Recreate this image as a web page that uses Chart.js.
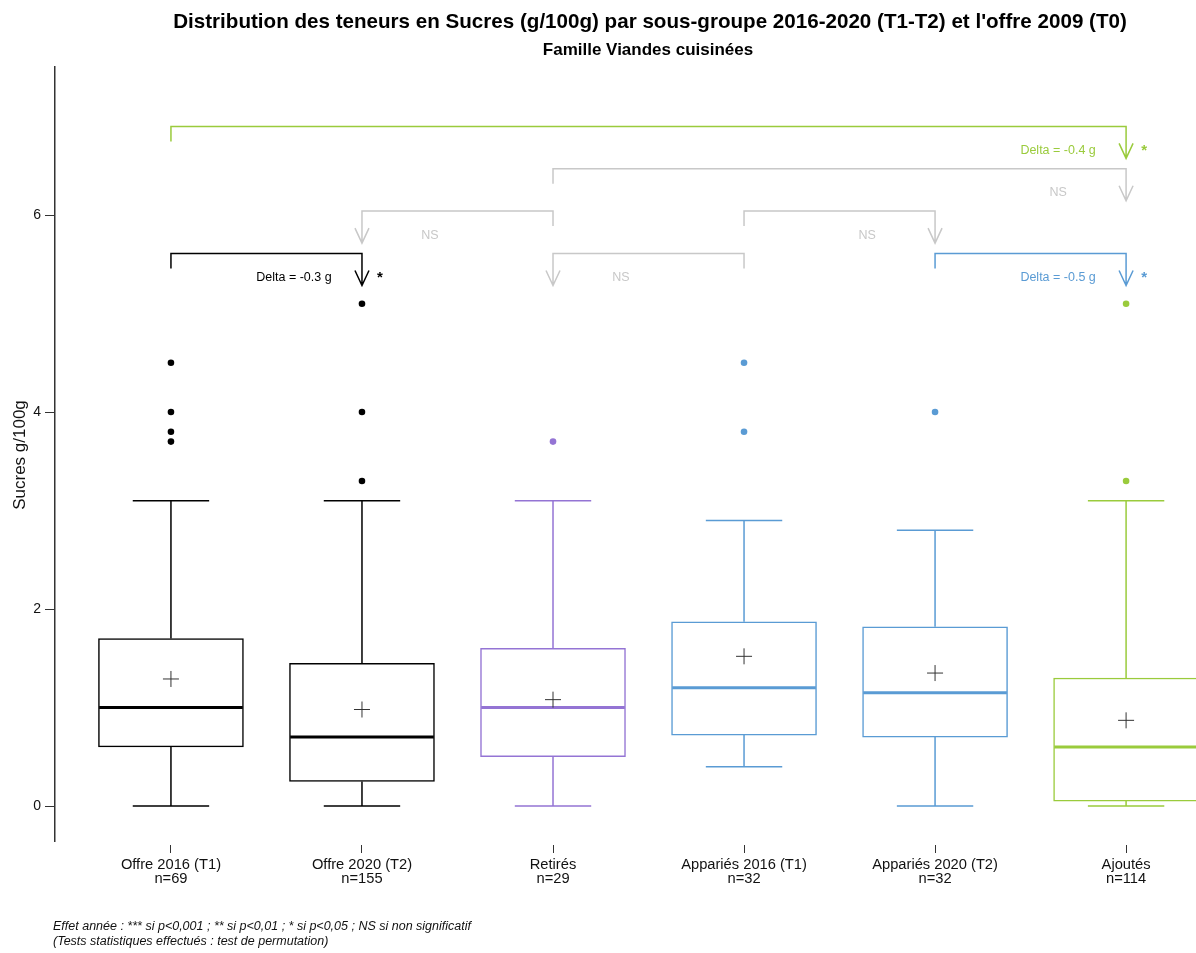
<!DOCTYPE html>
<html>
<head>
<meta charset="utf-8">
<script src="https://cdn.jsdelivr.net/npm/chart.js@4.4.0/dist/chart.umd.min.js"></script>
<style>
  html, body { margin: 0; padding: 0; background: #fff; }
</style>
</head>
<body>
<canvas id="boxChart" width="1196" height="953"></canvas>
<script>
// --- données ---
const categories = ["Offre 2016 (T1)", "Offre 2020 (T2)", "Retirés", "Appariés 2016 (T1)", "Appariés 2020 (T2)", "Ajoutés"];
const counts = [69, 155, 29, 32, 32, 114];
const whiskerLow = [0, 0, 0, 0.4, 0, 0];
const q1 = [0.6, 0.25, 0.5, 0.72, 0.7, 0.05];
const medians = [1.0, 0.7, 1.0, 1.2, 1.15, 0.6];
const q3 = [1.7, 1.45, 1.6, 1.87, 1.82, 1.3];
const whiskerHigh = [3.1, 3.1, 3.1, 2.9, 2.8, 3.1];
const means = [1.29, 0.98, 1.08, 1.52, 1.35, 0.87];
const outliers = [[3.7, 3.8, 4.0, 4.5], [3.3, 4.0, 5.1], [3.7], [3.8, 4.5], [4.0], [3.3, 5.1]];
const yTicks = [0, 2, 4, 6];

// comparaisons : de -> vers, hauteur du crochet, texte, significativité
const compFrom = [0, 2, 2, 3, 0, 3, 4];
const compTo = [5, 5, 1, 4, 1, 2, 5];
const compLevel = [6.9, 6.47, 6.04, 6.04, 5.61, 5.61, 5.61];
const compText = ["Delta = -0.4 g", "NS", "NS", "NS", "Delta = -0.3 g", "NS", "Delta = -0.5 g"];
const compStar = ["*", "", "", "", "*", "", "*"];

// --- styles ---
const groupColors = ["#000000", "#000000", "#9474D4", "#5A9BD4", "#5A9BD4", "#9ACB3C"];
const compColors = ["#9ACB3C", "#C8C8C8", "#C8C8C8", "#C8C8C8", "#000000", "#C8C8C8", "#5A9BD4"];
const FONT = "'Liberation Sans', Arial, sans-serif";

const outlierPoints = [];
const outlierColors = [];
outliers.forEach((list, i) => {
    list.forEach(v => {
        outlierPoints.push({ x: i, y: v });
        outlierColors.push(groupColors[i]);
    });
});

const boxParts = {
    id: "boxParts",
    beforeDatasetsDraw(chart) {
        const { ctx, scales: { x, y } } = chart;
        ctx.save();
        ctx.lineWidth = 1.5;
        categories.forEach((c, i) => {
            const cx = x.getPixelForValue(i);
            const capL = x.getPixelForValue(i - 0.2);
            const capR = x.getPixelForValue(i + 0.2);
            ctx.strokeStyle = groupColors[i];
            ctx.beginPath();
            ctx.moveTo(cx, y.getPixelForValue(q3[i]));
            ctx.lineTo(cx, y.getPixelForValue(whiskerHigh[i]));
            ctx.moveTo(cx, y.getPixelForValue(q1[i]));
            ctx.lineTo(cx, y.getPixelForValue(whiskerLow[i]));
            ctx.moveTo(capL, y.getPixelForValue(whiskerHigh[i]));
            ctx.lineTo(capR, y.getPixelForValue(whiskerHigh[i]));
            ctx.moveTo(capL, y.getPixelForValue(whiskerLow[i]));
            ctx.lineTo(capR, y.getPixelForValue(whiskerLow[i]));
            ctx.stroke();
        });
        ctx.restore();
    },
    afterDatasetDraw(chart, args) {
        if (args.meta.type !== "bar") return;
        const { ctx, scales: { x, y } } = chart;
        ctx.save();
        ctx.lineWidth = 3;
        categories.forEach((c, i) => {
            const py = y.getPixelForValue(medians[i]);
            ctx.strokeStyle = groupColors[i];
            ctx.beginPath();
            ctx.moveTo(x.getPixelForValue(i - 0.376), py);
            ctx.lineTo(x.getPixelForValue(i + 0.376), py);
            ctx.stroke();
        });
        ctx.restore();
    }
};

const brackets = {
    id: "brackets",
    afterDatasetsDraw(chart) {
        const { ctx, scales: { x, y } } = chart;
        ctx.save();
        ctx.lineWidth = 1.5;
        ctx.textBaseline = "middle";
        ctx.textAlign = "center";
        compFrom.forEach((from, k) => {
            const xf = x.getPixelForValue(from);
            const xt = x.getPixelForValue(compTo[k]);
            const yl = y.getPixelForValue(compLevel[k]);
            const dir = compTo[k] > from ? 1 : -1;
            ctx.strokeStyle = compColors[k];
            ctx.fillStyle = compColors[k];
            ctx.beginPath();
            ctx.moveTo(xf, yl + 15);
            ctx.lineTo(xf, yl);
            ctx.lineTo(xt, yl);
            ctx.lineTo(xt, yl + 32);
            ctx.moveTo(xt - 7, yl + 17);
            ctx.lineTo(xt, yl + 32);
            ctx.lineTo(xt + 7, yl + 17);
            ctx.stroke();
            ctx.font = "12.5px " + FONT;
            ctx.fillText(compText[k], xt - dir * 68, yl + 24);
            if (compStar[k]) {
                ctx.font = "bold 15px " + FONT;
                ctx.fillText(compStar[k], xt + dir * 18, yl + 24);
            }
        });
        ctx.restore();
    }
};

const texts = {
    id: "texts",
    afterDraw(chart) {
        const { ctx } = chart;
        ctx.save();
        ctx.fillStyle = "#000";
        ctx.textAlign = "center";
        ctx.textBaseline = "middle";
        ctx.font = "bold 20.6px " + FONT;
        ctx.fillText("Distribution des teneurs en Sucres (g/100g) par sous-groupe 2016-2020 (T1-T2) et l'offre 2009 (T0)", 650, 22);
        ctx.font = "bold 17px " + FONT;
        ctx.fillText("Famille Viandes cuisinées", 648, 50);

        ctx.save();
        ctx.translate(20, 455);
        ctx.rotate(-Math.PI / 2);
        ctx.font = "17px " + FONT;
        ctx.fillStyle = "#111";
        ctx.fillText("Sucres g/100g", 0, 0);
        ctx.restore();

        ctx.textAlign = "left";
        ctx.font = "italic 12.5px " + FONT;
        ctx.fillStyle = "#111";
        ctx.fillText("Effet année : *** si p<0,001 ; ** si p<0,01 ; * si p<0,05 ; NS si non significatif", 53, 927);
        ctx.fillText("(Tests statistiques effectués : test de permutation)", 53, 942);
        ctx.restore();
    }
};

const ctx = document.getElementById("boxChart").getContext("2d");

const chart = new Chart(ctx, {
    type: "scatter",
    data: {
        datasets: [
            {
                type: "scatter",
                label: "Moyenne",
                data: means.map((m, i) => ({ x: i, y: m })),
                pointStyle: "cross",
                pointRadius: 8,
                borderColor: "#333",
                borderWidth: 1,
                order: 1
            },
            {
                type: "scatter",
                label: "Valeurs extrêmes",
                data: outlierPoints,
                pointRadius: 3.3,
                backgroundColor: outlierColors,
                borderWidth: 0,
                order: 2
            },
            {
                type: "bar",
                label: "Boîtes",
                data: categories.map((c, i) => ({ x: i, y: [q1[i], q3[i]] })),
                backgroundColor: "#fff",
                borderColor: groupColors,
                borderWidth: 1.5,
                borderSkipped: false,
                barThickness: 145,
                order: 3
            }
        ]
    },
    options: {
        responsive: false,
        animation: false,
        devicePixelRatio: 1,
        layout: { autoPadding: false, padding: { top: 67, right: 0, bottom: 0, left: 0 } },
        plugins: {
            legend: { display: false },
            tooltip: { enabled: false },
            title: { display: false }
        },
        scales: {
            x: {
                type: "linear",
                min: -0.607,
                max: 5.366,
                offset: false,
                border: { display: false },
                grid: {
                    offset: false,
                    drawOnChartArea: false,
                    drawTicks: true,
                    tickLength: 12,
                    tickColor: "#333",
                    tickWidth: 1,
                    tickBorderDash: [8, 8],
                    tickBorderDashOffset: 12
                },
                afterBuildTicks: scale => {
                    scale.ticks = categories.map((c, i) => ({ value: i }));
                },
                afterFit: scale => {
                    scale.height = 112;
                    scale.paddingLeft = 0;
                    scale.paddingRight = 0;
                },
                ticks: {
                    autoSkip: false,
                    maxRotation: 0,
                    padding: 5,
                    color: "#111",
                    font: { family: FONT, size: 14.7, lineHeight: 0.96 },
                    callback: v => [categories[v], "n=" + counts[v]]
                }
            },
            y: {
                min: -0.355,
                max: 7.503,
                border: { display: true, color: "#333", width: 1.5 },
                grid: {
                    drawOnChartArea: false,
                    drawTicks: true,
                    tickLength: 10,
                    tickColor: "#333",
                    tickWidth: 1
                },
                afterBuildTicks: scale => {
                    scale.ticks = yTicks.map(v => ({ value: v }));
                },
                afterFit: scale => { scale.width = 55; },
                ticks: {
                    padding: 4,
                    color: "#111",
                    font: { family: FONT, size: 14 }
                }
            }
        }
    },
    plugins: [boxParts, brackets, texts]
});
</script>
</body>
</html>
